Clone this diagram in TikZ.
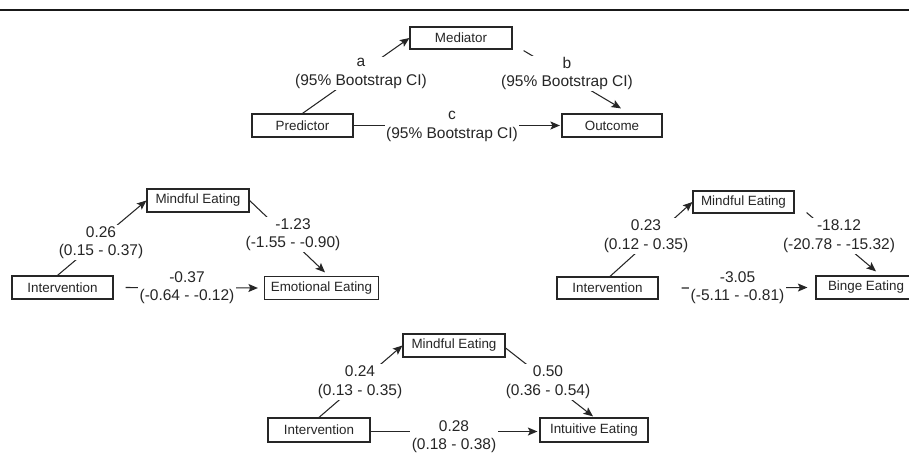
\documentclass[tikz,border=0pt]{standalone}
\usepackage{fontspec}
\setmainfont{Liberation Sans}
\usetikzlibrary{arrows.meta}
\begin{document}
\begin{tikzpicture}[x=1pt,y=-1pt,
  box/.style={draw=black!85, line width=1.2pt, minimum height=23pt, inner sep=0pt,
    text=black!85, font=\fontsize{13.4}{16}\selectfont},
  lbl/.style={fill=white, align=center, inner sep=1.5pt, text=black!85,
    font=\fontsize{15.5}{18.5}\selectfont},
  conn/.style={draw=black!85, line width=1.05pt,
    -{Stealth[length=9.5pt,width=8pt,inset=2pt]}}]
\clip (0,0) rectangle (909,453);
\fill[white] (0,0) rectangle (909,453);
\coordinate (tl) at (0,10);
\coordinate (tr) at (909,10);
\draw[line width=2.2pt, black!90] (tl) -- (tr);

% ---------- diagram 1 ----------
\node[box, minimum width=102pt, minimum height=22pt] (M1) at (461,38) {Mediator};
\node[box, minimum width=101pt] (P1) at (302.5,125.5) {Predictor};
\node[box, minimum width=100pt] (O1) at (612,125.5) {Outcome};
\draw[conn] (P1.north) -- ([yshift=0pt]M1.west);
\draw[conn] ([shift={(11,1)}]M1.south east) -- ([shift={(9,-5)}]O1.north);
\draw[conn, shorten >=1.5pt] (P1.east) -- (O1.west);
\node[lbl] (la1) at (361,73.5) {a\\(95\% Bootstrap CI)};
\node[lbl] (lb1) at (567,73.5) {b\\(95\% Bootstrap CI)};
\node[lbl] (lc1) at (452,126.5) {c\\(95\% Bootstrap CI)};

% ---------- diagram 2 ----------
\node[box, minimum width=102pt] (M2) at (198,200.5) {Mindful Eating};
\node[box, minimum width=101pt] (I2) at (62.5,287.5) {Intervention};
\node[box, minimum width=114pt] (E2) at (321.5,288) {Emotional Eating};
\draw[conn] ([xshift=-5pt]I2.north) -- (M2.west);
\draw[conn] (M2.east) -- ([shift={(3.5,-3.5)}]E2.north);
\draw[conn] ([xshift=12pt]I2.east) -- ([xshift=-6pt]E2.west);
\node[lbl] (la2) at (101,242.5) {0.26\\(0.15 - 0.37)};
\node[lbl] (lb2) at (293,234.5) {-1.23\\(-1.55 - -0.90)};
\node[lbl] (lc2) at (187,287.5) {-0.37\\(-0.64 - -0.12)};

% ---------- diagram 3 ----------
\node[box, minimum width=101pt, minimum height=22pt] (M3) at (743.5,202) {Mindful Eating};
\node[box, minimum width=101pt, minimum height=22pt] (I3) at (607.5,288) {Intervention};
\node[box, minimum width=100pt] (B3) at (866,287.5) {Binge Eating};
\draw[conn] ([xshift=2.5pt]I3.north) -- (M3.west);
\draw[conn] ([shift={(12,-1)}]M3.south east) -- ([shift={(10,-4)}]B3.north);
\draw[conn] ([xshift=23pt]I3.east) -- ([xshift=-8pt]B3.west);
\node[lbl] (la3) at (646,236) {0.23\\(0.12 - 0.35)};
\node[lbl] (lb3) at (839,236) {-18.12\\(-20.78 - -15.32)};
\node[lbl] (lc3) at (737.5,287.5) {-3.05\\(-5.11 - -0.81)};

% ---------- diagram 4 ----------
\node[box, minimum width=102pt] (M4) at (454,345.5) {Mindful Eating};
\node[box, minimum width=102pt, minimum height=24pt] (I4) at (319,430) {Intervention};
\node[box, minimum width=108pt, minimum height=24pt] (T4) at (594,430) {Intuitive Eating};
\draw[conn] (I4.north) -- (M4.west);
\draw[conn] ([yshift=-2.5pt]M4.east) -- ([shift={(-1,-1)}]T4.north);
\draw[conn, shorten >=2pt] ([yshift=-1.5pt]I4.east) -- ([yshift=-1.5pt]T4.west);
\node[lbl] (la4) at (360,382) {0.24\\(0.13 - 0.35)};
\node[lbl] (lb4) at (548,382) {0.50\\(0.36 - 0.54)};
\node[lbl] (lc4) at (454,436.5) {0.28\\(0.18 - 0.38)};
\end{tikzpicture}
\end{document}
